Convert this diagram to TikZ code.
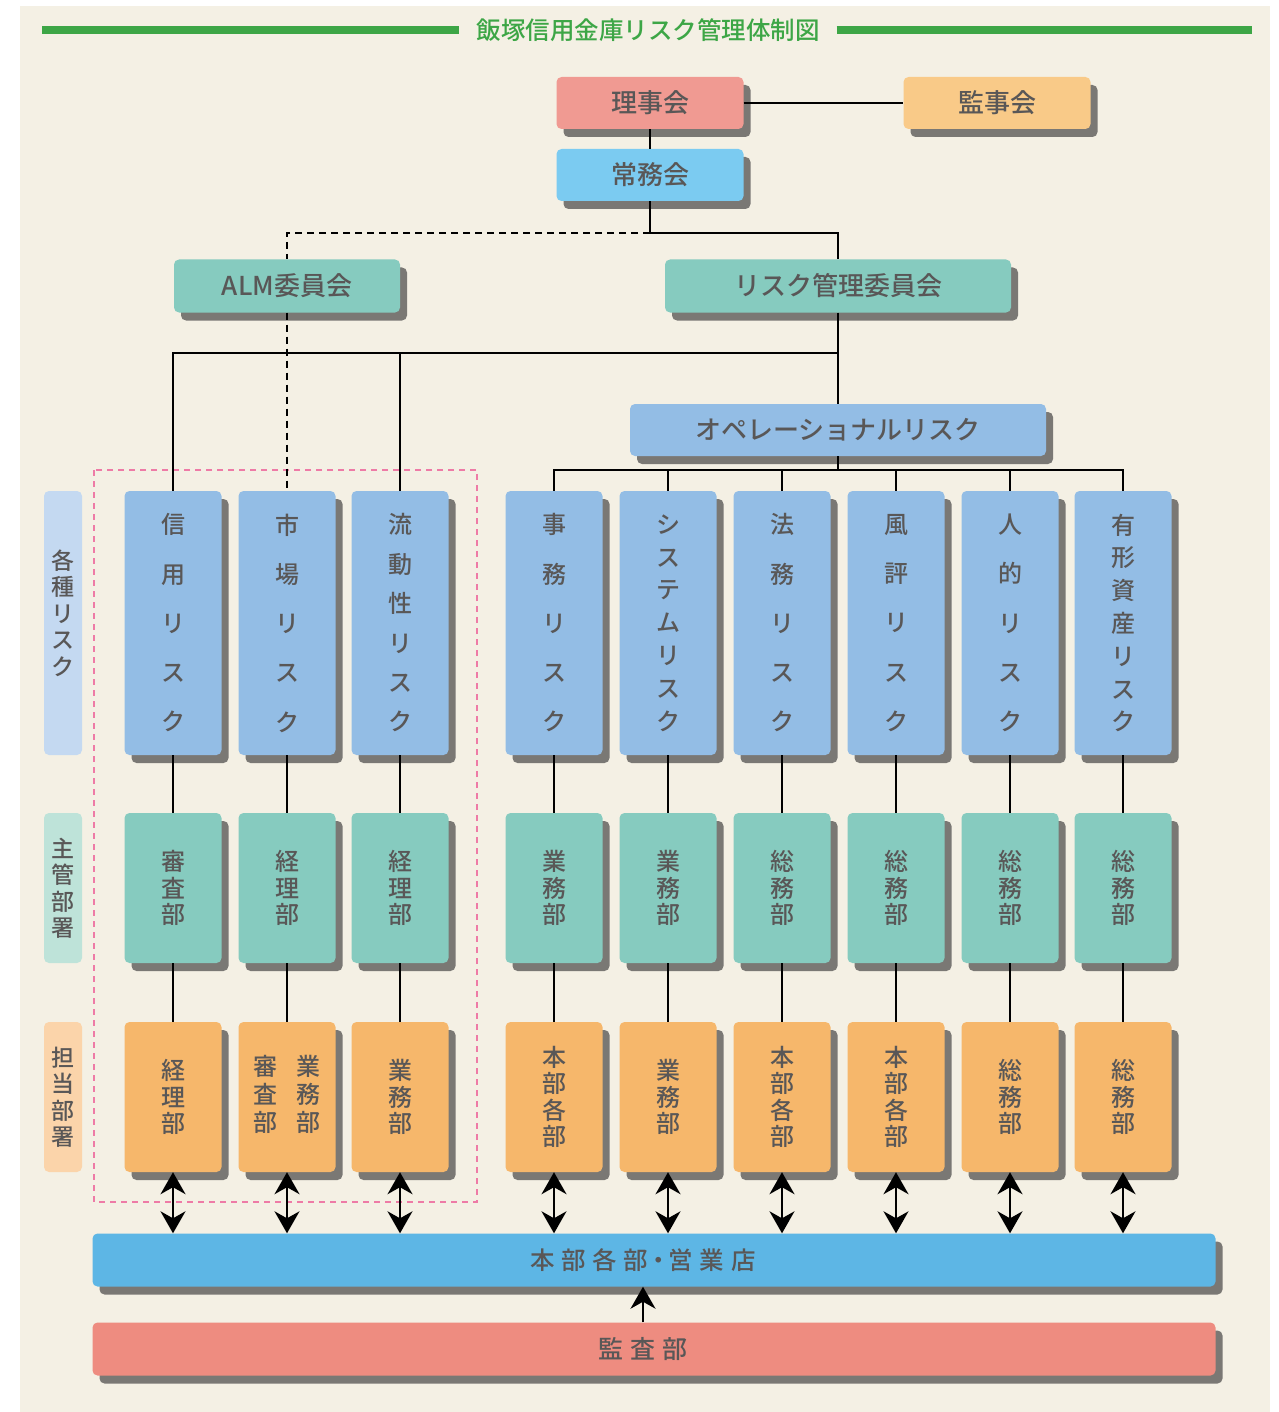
\documentclass[tikz,border=0pt]{standalone}
\usepackage{fontspec}
\setmainfont{Noto Sans CJK JP Medium}[BoldFont = {Noto Sans CJK JP Bold}]
\newfontfamily\widejp{Noto Sans CJK JP Medium}[LetterSpace=27]
\usetikzlibrary{arrows.meta,shadows}
\definecolor{bgbeige}{HTML}{F4F0E4}
\definecolor{titlegreen}{HTML}{3DA646}
\definecolor{txtgray}{HTML}{595757}
\definecolor{shadowgray}{HTML}{7A7874}
\definecolor{rijipink}{HTML}{F09A92}
\definecolor{kanjiorange}{HTML}{F9CA88}
\definecolor{jomublue}{HTML}{7BCBF1}
\definecolor{iinteal}{HTML}{86CBBF}
\definecolor{riskblue}{HTML}{93BDE5}
\definecolor{tantoorange}{HTML}{F6B76B}
\definecolor{catblue}{HTML}{C4D9F1}
\definecolor{catteal}{HTML}{BEE3D9}
\definecolor{catorange}{HTML}{FBD4AA}
\definecolor{honbublue}{HTML}{5DB6E5}
\definecolor{kansared}{HTML}{EE8C80}
\definecolor{dashpink}{HTML}{EE7BA6}

\begin{document}
\begin{tikzpicture}
      [x = 1pt, y = -1pt,
      >={Stealth[length = 22pt, width = 25pt, inset = 7pt]},
      every node/.style = {text = txtgray, font = \fontsize{26}{30}\selectfont},
      box/.style = {
         fill = #1,
         rounded corners = 5pt,
         inner sep = 0pt,
         drop shadow = {shadow xshift = 7pt, shadow yshift = -8pt,
            fill = shadowgray, opacity = 1}
      },
      colbox/.style = {
         minimum width = 97pt,
         align = center
      },
      catbox/.style = {
         fill = #1,
         rounded corners = 5pt,
         inner sep = 0pt,
         minimum width = 38pt,
         cattext
      },
      cattext/.style = {
         align = center,
         font = \fontsize{23}{26.5}\selectfont
      },
      link/.style = {line width = 1.6pt},
      dashlink/.style = {line width = 1.6pt, dash pattern = on 7pt off 5pt},
      arrowline/.style = {line width = 2pt}]

      \useasboundingbox (0, 0) rectangle (1278, 1412);
      \fill[bgbeige] (20, 6) rectangle (1270, 1412);

      \node[text = titlegreen, inner xsep = 17pt, font = \fontsize{24.5}{28}\selectfont] (title) at (648, 30) {飯塚信用金庫リスク管理体制図};
      \coordinate (rule-l) at (42, 30);
      \coordinate (rule-r) at (1252, 30);
      \draw[titlegreen, line width = 8pt] (rule-l) -- (title.west);
      \draw[titlegreen, line width = 8pt] (title.east) -- (rule-r);

      \node[box = rijipink, minimum width = 187pt, minimum height = 52pt] (riji) at (650, 103) {理事会};
      \node[box = kanjiorange, minimum width = 187pt, minimum height = 52pt] (kanji) at (997, 103) {監事会};
      \node[box = jomublue, minimum width = 187pt, minimum height = 52pt] (jomu) at (650, 175) {常務会};
      \node[box = iinteal, minimum width = 226pt, minimum height = 53pt] (alm) at (287, 286) {ALM委員会};
      \node[box = iinteal, minimum width = 346pt, minimum height = 53pt] (riskiin) at (838, 286) {リスク管理委員会};
      \node[box = riskblue, minimum width = 416pt, minimum height = 52pt] (opr) at (838, 430) {オペレーショナルリスク};

      \node[catbox = catblue, minimum height = 264pt] (cat-risk) at (63, 623) {};
      \node[cattext] (cat-risk-lbl) at (63, 613) {各\\種\\リ\\ス\\ク};
      \node[catbox = catteal, minimum height = 150pt] (cat-shukan) at (63, 888) {主\\管\\部\\署};
      \node[catbox = catorange, minimum height = 150pt] (cat-tanto) at (63, 1097) {担\\当\\部\\署};

      \draw[dashpink, line width = 1.5pt, dash pattern = on 6pt off 5pt] (94, 470) rectangle (477, 1202);

      \node[box = honbublue, minimum width = 1123pt, minimum height = 53pt] (honbu) at (654, 1260) {};
      \node[font = \widejp\fontsize{24.5}{28}\selectfont] (honbu-lbl) at (643, 1260) {本部各部\hspace{-2pt}・\hspace{-2pt}営業店};
      \node[box = kansared, minimum width = 1123pt, minimum height = 53pt] (kansa) at (654, 1349) {};
      \node[font = \widejp\fontsize{25}{28}\selectfont] (kansa-lbl) at (643, 1349) {監査部};

      \foreach \x/\nm/\lsp/\risk/\dept/\tanto in {
         173/shinyo/49.25/{信\\用\\リ\\ス\\ク}/{審\\査\\部}/{経\\理\\部},
         287/shijo/49.25/{市\\場\\リ\\ス\\ク}/{経\\理\\部}/{\begin{tabular}{@{}c@{\hspace{19pt}}c@{}}審&業\\査&務\\部&部\end{tabular}},
         400/ryudo/39.4/{流\\動\\性\\リ\\ス\\ク}/{経\\理\\部}/{業\\務\\部},
         554/jimu/49.25/{事\\務\\リ\\ス\\ク}/{業\\務\\部}/{本\\部\\各\\部},
         668/system/32.83/{シ\\ス\\テ\\ム\\リ\\ス\\ク}/{業\\務\\部}/{業\\務\\部},
         782/homu/49.25/{法\\務\\リ\\ス\\ク}/{総\\務\\部}/{本\\部\\各\\部},
         896/fuhyo/49.25/{風\\評\\リ\\ス\\ク}/{総\\務\\部}/{本\\部\\各\\部},
         1010/jinteki/49.25/{人\\的\\リ\\ス\\ク}/{総\\務\\部}/{総\\務\\部},
         1123/yukei/32.83/{有\\形\\資\\産\\リ\\ス\\ク}/{総\\務\\部}/{総\\務\\部}}
      {
         \node[box = riskblue, colbox, minimum height = 264pt, font = \fontsize{24}{\lsp}\selectfont] (\nm) at (\x, 623) {\risk};
         \node[box = iinteal, colbox, minimum height = 150pt, font = \fontsize{24}{26.5}\selectfont] (\nm-dept) at (\x, 888) {\dept};
         \node[box = tantoorange, colbox, minimum height = 150pt, font = \fontsize{24}{26.5}\selectfont] (\nm-tanto) at (\x, 1097) {\tanto};
         \draw[link] (\nm) -- (\nm-dept);
         \draw[link] (\nm-dept) -- (\nm-tanto);
         \draw[<->, arrowline] (\nm-tanto) -- (\nm-tanto |- honbu.north);
      }

      \draw[link] (riji) -- (kanji);
      \draw[link] (riji) -- (jomu);
      \coordinate (jomu-j) at (650, 233);
      \draw[link] (jomu) -- (jomu-j) -| (riskiin);
      \draw[dashlink] (jomu-j) -| (alm);
      \draw[dashlink] (alm) -- (shijo);
      \coordinate (riskiin-j) at (838, 353);
      \draw[link] (riskiin) -- (opr);
      \draw[link] (riskiin-j) -| (shinyo);
      \draw[link] (riskiin-j) -| (ryudo);
      \coordinate (opr-j) at (838, 470);
      \draw[link] (opr) -- (opr-j);
      \foreach \nm in {jimu, system, homu, fuhyo, jinteki, yukei}
         \draw[link] (opr-j) -| (\nm);
      \draw[->, arrowline] (kansa-lbl |- kansa.north) -- (kansa-lbl |- honbu.south);

   \end{tikzpicture}
\end{document}
